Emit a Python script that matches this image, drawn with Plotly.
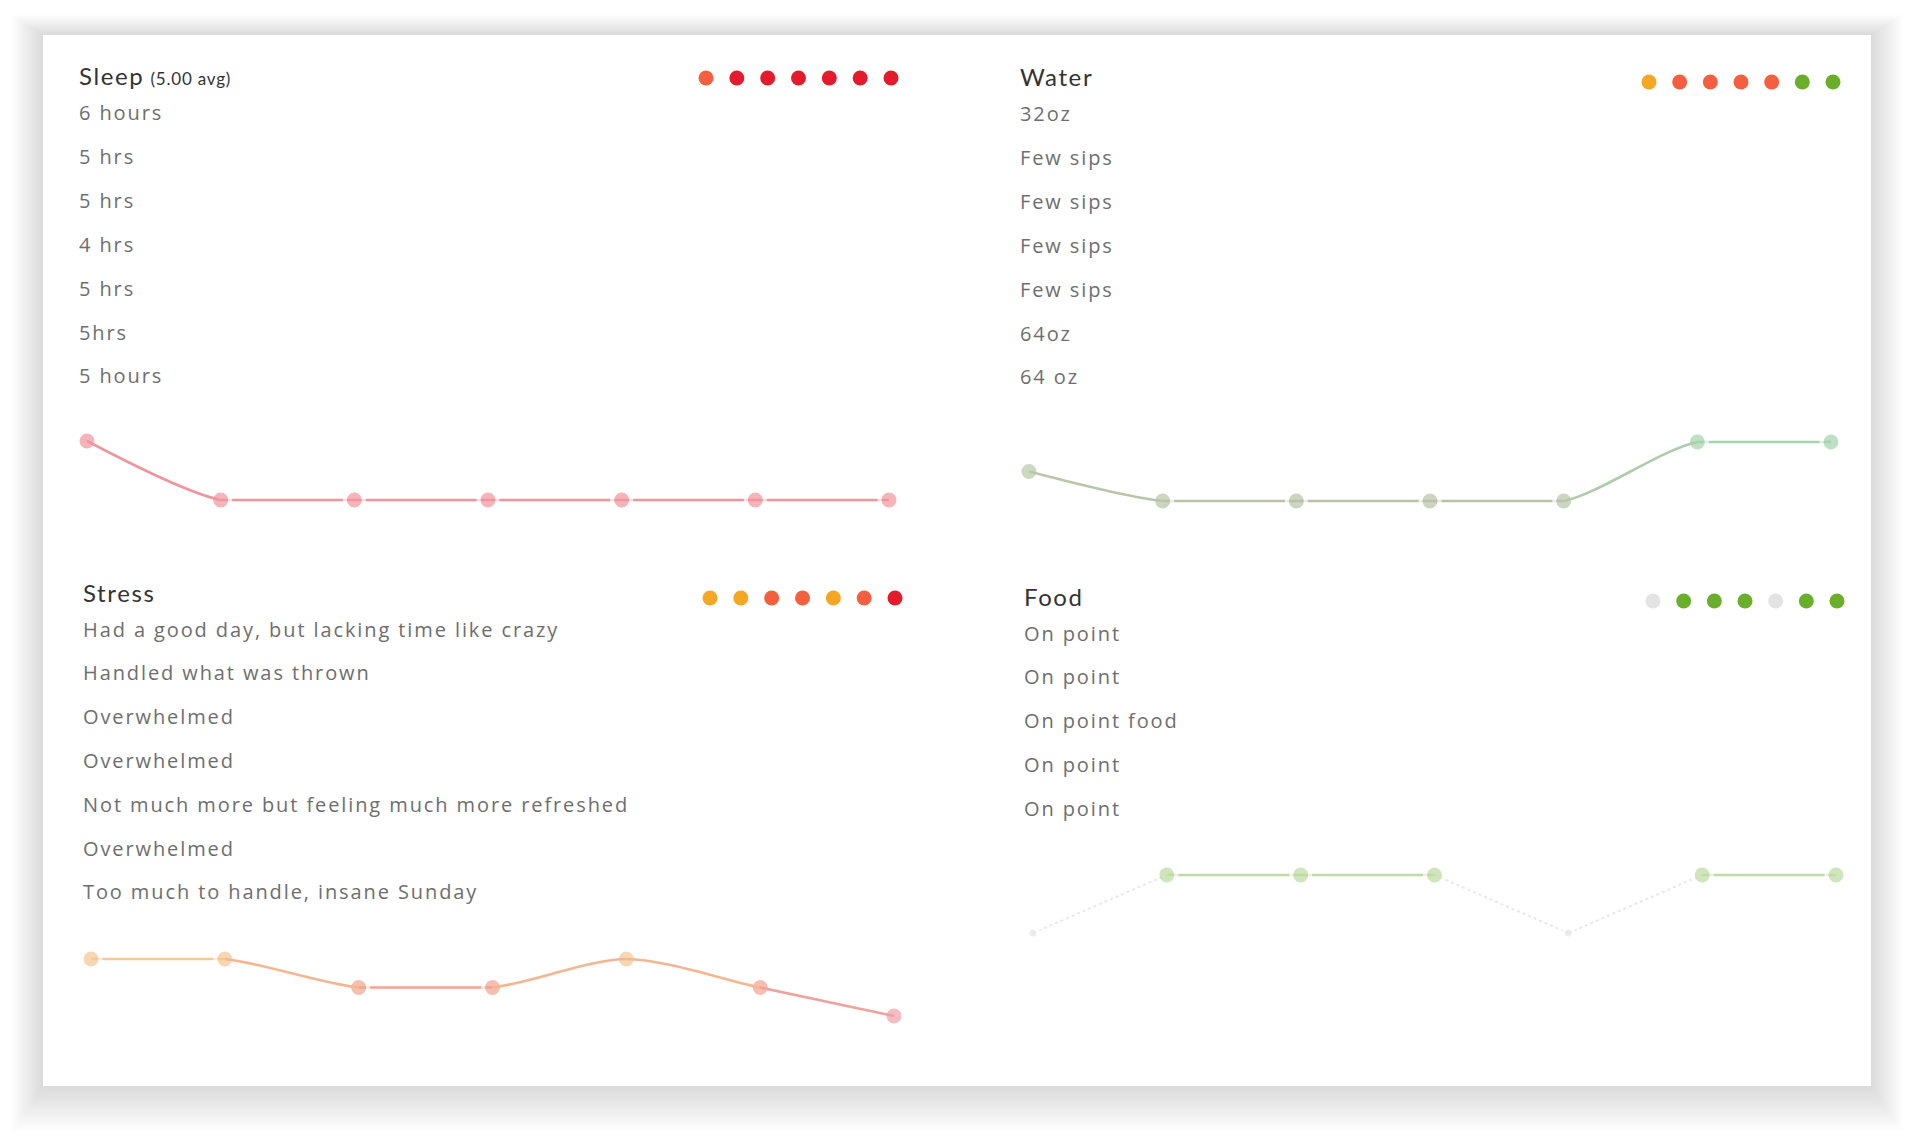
import plotly.graph_objects as go

W, H = 1920, 1134

# ---------------- data ----------------
days = [1, 2, 3, 4, 5, 6, 7]

sleep_avg = "5.00"
sleep_notes = ["6 hours", "5 hrs", "5 hrs", "4 hrs", "5 hrs", "5hrs", "5 hours"]
sleep_ratings = [2, 1, 1, 1, 1, 1, 1]

water_notes = ["32oz", "Few sips", "Few sips", "Few sips", "Few sips", "64oz", "64 oz"]
water_ratings = [3, 2, 2, 2, 2, 4, 4]

stress_notes = ["Had a good day, but lacking time like crazy", "Handled what was thrown",
                "Overwhelmed", "Overwhelmed", "Not much more but feeling much more refreshed",
                "Overwhelmed", "Too much to handle, insane Sunday"]
stress_ratings = [3, 3, 2, 2, 3, 2, 1]

food_notes = ["On point", "On point", "On point food", "On point", "On point"]
food_ratings = [0, 4, 4, 4, 0, 4, 4]

# ---------------- styles ----------------
rating_dot_colors = {0: "#e3e3e3", 1: "#e31b2c", 2: "#f4603f", 3: "#f5a623", 4: "#6aaf2a"}

panels = [
    dict(title="Sleep", sub=f"({sleep_avg} avg)", notes=sleep_notes, ratings=sleep_ratings,
         tx=77, ty=75, ny0=113, dots=(706, 891, 78), line=(87, 889, 441, 500),
         pcolors={1: "#f0959d", 2: "#f0959d"}, mode="spline"),
    dict(title="Water", sub="", notes=water_notes, ratings=water_ratings,
         tx=1018, ty=76, ny0=114, dots=(1649, 1833, 82), line=(1029, 1831, 442, 501),
         pcolors={2: "#b9c2a8", 3: "#b6c9a6", 4: "#a3d5ad"}, mode="spline"),
    dict(title="Stress", sub="", notes=stress_notes, ratings=stress_ratings,
         tx=81, ty=592, ny0=629, dots=(710, 895, 598), line=(91, 894, 959, 1016),
         pcolors={1: "#f0a0aa", 2: "#f1a48e", 3: "#f5c794"}, mode="spline"),
    dict(title="Food", sub="", notes=food_notes, ratings=food_ratings,
         tx=1022, ty=596, ny0=633, dots=(1653, 1837, 601), line=(1033, 1836, 875, 933),
         pcolors={0: "#e6e6e6", 4: "#bedba2"}, mode="food"),
]
row_gap = 43.8


def px(x):
    return x / W


def py(y):
    return 1 - y / H


def blend(c1, c2, t=0.5):
    a = [int(c1[i:i + 2], 16) for i in (1, 3, 5)]
    b = [int(c2[i:i + 2], 16) for i in (1, 3, 5)]
    return "#" + "".join(f"{round(a[k] + (b[k] - a[k]) * t):02x}" for k in range(3))


fig = go.Figure()
layout_axes = {}
counter = {"x": 0, "y": 0}


def new_axis(kind, domain, rng, anchor="free"):
    counter[kind] += 1
    n = counter[kind]
    name = kind if n == 1 else f"{kind}{n}"
    key = f"{kind}axis" if n == 1 else f"{kind}axis{n}"
    layout_axes[key] = dict(domain=domain, range=rng, visible=False, fixedrange=True,
                            anchor=anchor, showgrid=False, zeroline=False)
    if anchor == "free":
        layout_axes[key]["position"] = 0
    return name


annotations = []
shapes = []

# card shadow + card
card = (43, 35, 1871, 1086)
for i in range(18, 0, -1):
    g = i * 2.5
    shapes.append(dict(type="rect", xref="paper", yref="paper", layer="below",
                       x0=px(card[0] - g * 0.7), x1=px(card[2] + g * 0.7),
                       y0=py(card[3] + g * 1.0), y1=py(card[1] - g * 0.45),
                       line=dict(width=0), fillcolor="rgba(0,0,0,0.009)"))
shapes.append(dict(type="rect", xref="paper", yref="paper", layer="below",
                   x0=px(card[0]), x1=px(card[2]), y0=py(card[3]), y1=py(card[1]),
                   line=dict(width=0), fillcolor="#ffffff"))

for p in panels:
    # title
    annotations.append(dict(
        x=px(p["tx"]), y=py(p["ty"]), xref="paper", yref="paper", xanchor="left", yanchor="middle",
        showarrow=False,
        text=f"<span style='letter-spacing:1.6px'>{p['title']}</span>"
             + (f" <span style='font-size:17px;letter-spacing:0.8px'>{p['sub']}</span>" if p["sub"] else ""),
        font=dict(family="Lato, Open Sans, sans-serif", size=24, color="#333333")))
    # notes
    for i, note in enumerate(p["notes"]):
        annotations.append(dict(
            x=px(p["tx"]), y=py(p["ny0"] + i * row_gap), xref="paper", yref="paper",
            xanchor="left", yanchor="middle", showarrow=False,
            text=f"<span style='letter-spacing:1.9px'>{note}</span>",
            font=dict(family="Open Sans, sans-serif", size=20, color="#6e6e6e")))

    r = p["ratings"]
    # header rating dots
    dx0, dx1, dy = p["dots"]
    yd = new_axis("y", [py(dy + 10), py(dy - 10)], [-1, 1])
    xd = new_axis("x", [px(dx0), px(dx1)], [days[0], days[-1]], anchor=yd)
    fig.add_trace(go.Scatter(x=days, y=[0] * len(days), xaxis=xd, yaxis=yd, mode="markers",
                             cliponaxis=False, hoverinfo="skip", showlegend=False,
                             marker=dict(size=15, color=[rating_dot_colors[v] for v in r],
                                         line=dict(width=0))))

    # line chart
    lx0, lx1, ly0, ly1 = p["line"]
    lo, hi = min(r), max(r)
    span = hi - lo
    pad = 0.3
    band = ly1 - ly0
    ydom = [py(ly1 + band * pad), py(ly0 - band * pad)]
    yl = new_axis("y", ydom, [lo - span * pad, hi + span * pad])
    xmain = new_axis("x", [px(lx0), px(lx1)], [days[0], days[-1]], anchor=yl)
    colors = [p["pcolors"][v] for v in r]
    step = (lx1 - lx0) / (len(days) - 1)

    if p["mode"] == "spline":
        for i in range(len(days) - 1):
            seg_color = blend(colors[i], colors[i + 1])
            if r[i] == r[i + 1]:
                fig.add_trace(go.Scatter(x=days[i:i + 2], y=r[i:i + 2], xaxis=xmain, yaxis=yl,
                                         mode="lines", hoverinfo="skip", showlegend=False,
                                         line=dict(width=2.6, color=seg_color)))
            else:
                xs = new_axis("x", [px(lx0 + step * i), px(lx0 + step * (i + 1))],
                              [days[i], days[i + 1]], anchor=yl)
                fig.add_trace(go.Scatter(x=days, y=r, xaxis=xs, yaxis=yl, mode="lines",
                                         line=dict(shape="spline", smoothing=0.8, width=2.6,
                                                   color=seg_color),
                                         hoverinfo="skip", showlegend=False))
    else:
        for i in range(len(days) - 1):
            grey = r[i] == 0 or r[i + 1] == 0
            fig.add_trace(go.Scatter(x=days[i:i + 2], y=r[i:i + 2], xaxis=xmain, yaxis=yl,
                                     mode="lines", hoverinfo="skip", showlegend=False,
                                     line=dict(width=2 if grey else 2.6,
                                               dash="dot" if grey else "solid",
                                               color="#e8e8e8" if grey else colors[i])))

    sizes = [11 if v == 0 and p["mode"] == "food" else 19 for v in r]
    fig.add_trace(go.Scatter(x=days, y=r, xaxis=xmain, yaxis=yl, mode="markers", cliponaxis=False,
                             hoverinfo="skip", showlegend=False,
                             marker=dict(size=sizes, color=colors, line=dict(width=4, color="#ffffff"))))

fig.update_layout(width=W, height=H, margin=dict(l=0, r=0, t=0, b=0),
                  paper_bgcolor="#ffffff", plot_bgcolor="rgba(0,0,0,0)",
                  annotations=annotations, shapes=shapes, showlegend=False, **layout_axes)

fig.write_html("out.html", config={"displayModeBar": False},
               post_script="document.body.style.margin='0';document.body.style.overflow='hidden';")
